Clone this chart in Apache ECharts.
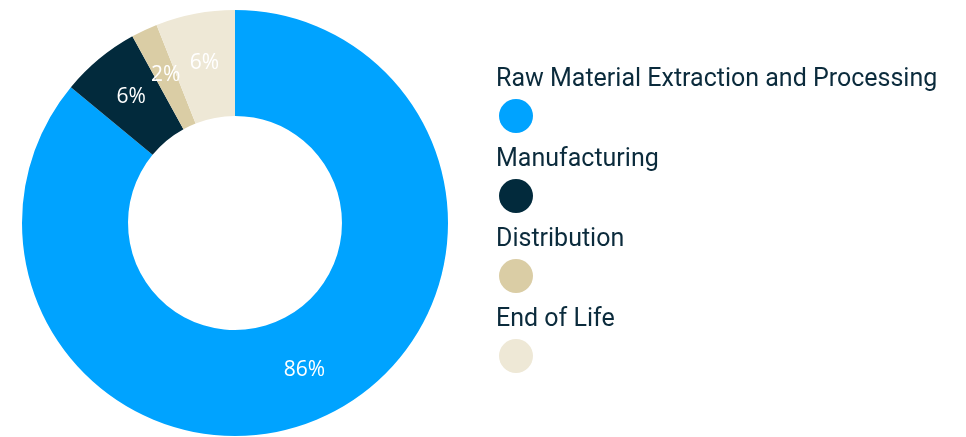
<!DOCTYPE html>
<html>
<head>
<meta charset="utf-8">
<script src="https://cdn.jsdelivr.net/npm/echarts@6/dist/echarts.min.js"></script>
<style>html,body{margin:0;padding:0;background:#fff}#c{width:966px;height:437px}</style>
</head>
<body>
<div id="c"></div>
<script>
const categories = ['Raw Material Extraction and Processing', 'Manufacturing', 'Distribution', 'End of Life'];
const values = [86, 6, 2, 6];
const colors = ['#00A3FF', '#022A3C', '#DACDA5', '#EEE8D6'];

const chart = echarts.init(document.getElementById('c'));
chart.setOption({
  animation: false,
  color: colors,
  legend: [
    {
      orient: 'vertical', left: 499, top: 99, padding: 0,
      icon: 'circle', itemWidth: 34, itemHeight: 34, itemGap: 46,
      formatter: function () { return ''; },
      selectedMode: false,
      data: categories
    },
    {
      orient: 'vertical', left: 491, top: 67, padding: 0,
      icon: 'circle', itemWidth: 0, itemHeight: 25, itemGap: 55,
      itemStyle: { opacity: 0 },
      selectedMode: false,
      textStyle: { color: '#0B2B3C', fontSize: 25, fontFamily: 'Roboto' },
      data: categories
    }
  ],
  series: [{
    type: 'pie',
    center: [235, 223],
    radius: [107, 213],
    startAngle: 90,
    clockwise: true,
    avoidLabelOverlap: false,
    label: {
      show: true, position: 'inside',
      formatter: '{c}%',
      color: '#fff', fontSize: 21, fontFamily: 'Open Sans'
    },
    labelLine: { show: false },
    data: categories.map((n, i) => ({ name: n, value: values[i] }))
  }]
});
</script>
</body>
</html>
